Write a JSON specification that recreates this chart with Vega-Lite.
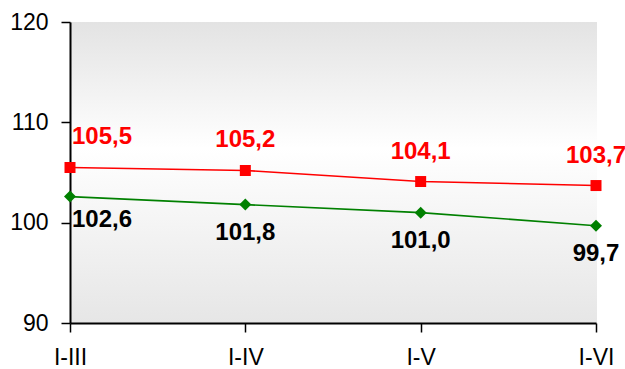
{
  "$schema": "https://vega.github.io/schema/vega-lite/v6.json",
  "width": 527,
  "height": 301,
  "autosize": {"type": "none"},
  "padding": {"left": 70, "top": 22, "right": 28, "bottom": 46},
  "background": "white",
  "view": {
    "stroke": null,
    "fill": {
      "gradient": "linear",
      "x1": 0, "y1": 0, "x2": 0, "y2": 1,
      "stops": [
        {"offset": 0, "color": "#e3e3e3"},
        {"offset": 0.42, "color": "#ffffff"},
        {"offset": 1, "color": "#e6e6e6"}
      ]
    }
  },
  "config": {
    "font": "Liberation Sans",
    "axis": {
      "grid": false,
      "domainColor": "#000000",
      "domainWidth": 2,
      "tickColor": "#000000",
      "tickWidth": 1.5,
      "tickSize": 9,
      "labelFont": "Liberation Sans",
      "labelFontSize": 23,
      "labelColor": "#000000",
      "title": null
    }
  },
  "data": {
    "values": [
      {"period": "I-III", "series": "A", "value": 105.5},
      {"period": "I-IV", "series": "A", "value": 105.2},
      {"period": "I-V", "series": "A", "value": 104.1},
      {"period": "I-VI", "series": "A", "value": 103.7},
      {"period": "I-III", "series": "B", "value": 102.6},
      {"period": "I-IV", "series": "B", "value": 101.8},
      {"period": "I-V", "series": "B", "value": 101.0},
      {"period": "I-VI", "series": "B", "value": 99.7}
    ]
  },
  "encoding": {
    "x": {
      "field": "period",
      "type": "ordinal",
      "sort": ["I-III", "I-IV", "I-V", "I-VI"],
      "scale": {"type": "point", "padding": 0, "range": [0, 526]},
      "axis": {"labelAngle": 0, "labelPadding": 14, "domain": true}
    },
    "y": {
      "field": "value",
      "type": "quantitative",
      "scale": {"domain": [90, 120], "nice": false, "zero": false},
      "axis": {"values": [90, 100, 110, 120], "labelPadding": 13}
    }
  },
  "layer": [
    {
      "mark": {"type": "line", "strokeWidth": 1.6},
      "encoding": {
        "detail": {"field": "series"},
        "color": {
          "field": "series",
          "type": "nominal",
          "scale": {"domain": ["A", "B"], "range": ["#ff0000", "#008000"]},
          "legend": null
        }
      }
    },
    {
      "mark": {"type": "point", "filled": true, "opacity": 1},
      "encoding": {
        "color": {"field": "series", "type": "nominal", "legend": null},
        "shape": {
          "field": "series",
          "type": "nominal",
          "scale": {"domain": ["A", "B"], "range": ["square", "diamond"]},
          "legend": null
        },
        "size": {
          "field": "series",
          "type": "nominal",
          "scale": {"domain": ["A", "B"], "range": [121, 144]},
          "legend": null
        }
      }
    },
    {
      "transform": [
        {"calculate": "replace(format(datum.value, '.1f'), '.', ',')", "as": "label"}
      ],
      "mark": {
        "type": "text",
        "font": "Liberation Sans",
        "fontSize": 24,
        "fontWeight": "bold",
        "baseline": "middle",
        "align": {"expr": "datum.period === 'I-III' ? 'left' : 'center'"},
        "dx": {"expr": "datum.period === 'I-III' ? 2 : 0"},
        "dy": {"expr": "datum.series === 'A' ? -30 : (datum.period === 'I-III' ? 23 : 28)"},
        "fill": {"expr": "datum.series === 'A' ? '#ff0000' : '#000000'"}
      },
      "encoding": {
        "text": {"field": "label"}
      }
    }
  ]
}
